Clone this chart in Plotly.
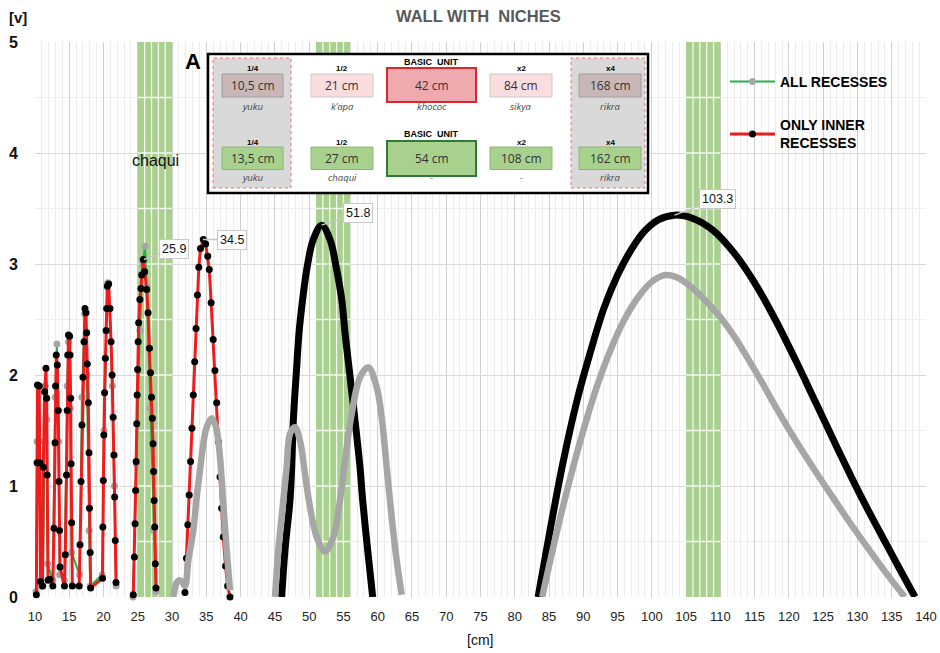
import plotly.graph_objects as go

# ---------------- data ----------------
# ONLY INNER RECESSES - sparse spikes (black dots on red line)
INNER_SPIKE_X = [10.2, 10.3, 10.36, 10.62, 10.72, 10.8,
                 11.1, 11.21, 11.4, 11.6, 11.7, 11.78, 11.9, 12.15,
                 12.6, 12.77, 12.92, 13.0, 13.1, 13.26, 13.4, 13.5, 13.58, 13.65,
                 14.3, 14.42, 14.6, 14.7, 14.78, 14.88, 15.05, 15.12, 15.2, 15.27, 15.35, 15.45,
                 16.45, 16.57, 16.72, 16.85, 17.0, 17.15, 17.29, 17.44, 17.54, 17.63, 17.78, 17.88, 17.95, 18.05, 18.12,
                 19.85, 19.9, 19.97, 20.05, 20.15, 20.27, 20.38, 20.46, 20.55, 20.75, 20.94, 21.1, 21.25, 21.4, 21.52, 21.62, 21.72, 21.82,
                 None,
                 24.34, 24.5, 24.6, 24.68, 24.76, 24.84, 24.9, 24.97, 25.05, 25.12, 25.3, 25.45, 25.57, 25.8,
                 26.0, 26.3, 26.5, 26.7, 26.85, 27.0, 27.12, 27.22, 27.3, 27.38, 27.47, 27.56, 27.65,
                 None,
                 31.88, 32.1, 32.3, 32.5, 32.7, 32.9, 33.1, 33.3, 33.5, 33.7, 33.9, 34.15, 34.56,
                 34.9, 35.2, 35.43, 35.7, 36.0, 36.25, 36.51, 36.75, 36.99, 37.23, 37.47, 37.8, 38.1, 38.45]
INNER_SPIKE_Y = [0.02, 1.21, 1.91, 1.9, 1.21, 0.14,
                 0.1, 1.17, 1.85, 2.06, 1.79, 1.1, 0.15, 0.16,
                 0.1, 0.62, 1.39, 1.9, 2.18, 2.09, 1.68, 1.04, 0.6, 0.27,
                 0.1, 0.38, 1.1, 1.68, 2.18, 2.36, 2.35, 2.18, 1.79, 1.2, 0.67, 0.1,
                 0.1, 0.47, 1.04, 1.55, 1.98, 2.3, 2.6, 2.56, 2.38, 2.1, 1.75, 1.3, 0.8, 0.4, 0.08,
                 0.17, 0.63, 1.05, 1.46, 1.84, 2.15, 2.4, 2.6, 2.8, 2.82, 2.6, 2.3, 2.0, 1.62, 1.28, 0.9, 0.51, 0.13,
                 None,
                 0.02, 0.36, 0.66, 0.96, 1.22, 1.56, 1.82, 2.05, 2.3, 2.47, 2.68, 2.78, 2.9, 3.04,
                 2.93, 2.77, 2.56, 2.24, 2.02, 1.8, 1.61, 1.38, 1.13, 0.87, 0.63, 0.3, 0.08,
                 None,
                 0.04, 0.35, 0.65, 0.92, 1.22, 1.52, 1.82, 2.12, 2.42, 2.72, 2.97, 3.14, 3.22,
                 3.18, 3.07, 2.95, 2.65, 2.32, 2.04, 1.75, 1.4, 1.08, 0.8, 0.54, 0.28, 0.1, 0.0]

# ONLY INNER RECESSES - dense humps
INNER_HUMP_X = [45.99, 46.47, 47.2, 47.45, 47.69, 48.18, 48.52, 49.05, 49.73, 50.6, 51.83,
                53.04, 53.92, 54.75, 55.23, 55.81, 56.69, 57.42, 57.81, 58.54, 59.27,
                None,
                83.4, 85, 87, 89, 91, 93, 95, 97, 99, 101, 103.3, 106, 109, 112, 115,
                118, 121, 124, 127, 130, 132, 134, 136, 138.4]
INNER_HUMP_Y = [0.0, 0.42, 0.87, 1.17, 1.59, 2.07, 2.38, 2.68, 2.98, 3.22, 3.35,
                3.22, 2.98, 2.68, 2.38, 2.07, 1.59, 1.17, 0.87, 0.42, 0.0,
                None,
                0.0, 0.55, 1.2, 1.75, 2.2, 2.6, 2.9, 3.13, 3.3, 3.4, 3.44, 3.41, 3.3, 3.1, 2.83,
                2.5, 2.13, 1.74, 1.35, 0.97, 0.73, 0.5, 0.27, 0.0]

# ALL RECESSES - sparse spikes (grey dots on green line)
ALL_SPIKE_X = [10.15, 10.32, 10.6, 10.8, 11.15, 11.5, 11.72, 11.85,
               12.6, 12.95, 13.2, 13.45, 13.6, 14.3, 14.7, 14.9, 15.15, 15.35,
               16.5, 16.85, 17.25, 17.55, 17.9, 18.05,
               19.8, 20.1, 20.4, 20.6, 20.9, 21.3, 21.6, 21.85,
               None,
               24.3, 24.8, 25.3, 25.7, 26.05, 26.3, 26.8, 27.3, 27.65]
ALL_SPIKE_Y = [0.05, 1.4, 1.4, 0.1, 0.1, 1.9, 1.6, 0.3,
               0.15, 1.8, 2.28, 1.4, 0.2, 0.15, 1.9, 2.3, 1.7, 0.4,
               0.2, 1.8, 2.55, 2.0, 0.6, 0.1,
               0.2, 1.5, 2.4, 2.83, 2.6, 1.9, 1.0, 0.1,
               None,
               0.0, 1.2, 2.4, 3.0, 3.16, 2.8, 1.7, 0.6, 0.05]

# ALL RECESSES - dense humps
ALL_HUMP_X = [30.18, 30.67, 31.0, 31.4, 31.88, 32.37, 33.1, 33.59, 34.07, 34.56, 35.05,
              35.78, 36.41, 36.99, 37.47, 37.97, 38.45,
              None,
              45.02, 45.5, 46.23, 46.72, 47.2, 47.93, 48.66, 49.39, 50.12, 51.1, 52.31,
              53.52, 54.5, 55.23, 56.2, 57.42, 58.63, 59.85, 60.58, 61.31, 62.04, 62.77, 63.5,
              None,
              84.0, 86, 88, 90, 92, 94, 96, 98, 100, 102, 104, 106, 108, 110, 112, 114,
              116, 118, 120, 122, 124, 126.7, 129, 132, 134.5, 136.9]
ALL_HUMP_Y = [0.0, 0.13, 0.15, 0.14, 0.1, 0.33, 0.6, 0.9, 1.14, 1.38, 1.53,
              1.61, 1.53, 1.26, 0.84, 0.42, 0.06,
              None,
              0.0, 0.42, 0.87, 1.17, 1.47, 1.53, 1.41, 1.11, 0.81, 0.54, 0.41,
              0.54, 0.87, 1.23, 1.65, 1.98, 2.07, 1.89, 1.62, 1.17, 0.72, 0.33, 0.02,
              None,
              0.0, 0.55, 1.05, 1.5, 1.9, 2.23, 2.5, 2.7, 2.84, 2.9, 2.87, 2.78, 2.66, 2.52, 2.35, 2.15,
              1.94, 1.72, 1.51, 1.31, 1.12, 0.87, 0.66, 0.4, 0.19, 0.0]

# Green bands [cm]
BAND_X0 = [25, 51, 105]
BAND_X1 = [30, 56, 110]

# Peak labels
PEAK_X = [25.9, 34.5, 51.8, 103.3]
PEAK_Y = [3.04, 3.22, 3.35, 3.44]

# Inset table
RATIO_TOP = ["1/4", "1/2", "BASIC\u00a0 UNIT", "x2", "x4"]
RATIO_BOT = ["1/4", "1/2", "BASIC\u00a0 UNIT", "x2", "x4"]
VALUES_TOP = ["10,5 cm", "21 cm", "42 cm", "84 cm", "168 cm"]
VALUES_BOT = ["13,5 cm", "27 cm", "54 cm", "108 cm", "162 cm"]
NAMES_TOP = ["yuku", "k\u2019apa", "khococ", "sikya", "rikra"]
NAMES_BOT = ["yuku", "chaqui", "-", "-", "rikra"]

# ---------------- figure ----------------
L, R, T, B = 35, 926, 42, 597


def PX(v):
    return (v - L) / (R - L)


def PY(v):
    return (B - v) / (B - T)


fig = go.Figure()

fig.add_trace(go.Scatter(
    x=ALL_SPIKE_X, y=ALL_SPIKE_Y, mode="lines+markers", name="ALL RECESSES",
    line=dict(color="#22b14c", width=2), marker=dict(color="#a6a6a6", size=7),
    cliponaxis=False, legendgroup="a"))
fig.add_trace(go.Scatter(
    x=INNER_SPIKE_X, y=INNER_SPIKE_Y, mode="lines+markers", name="ONLY INNER<br>RECESSES",
    line=dict(color="#ee1c1c", width=3), marker=dict(color="black", size=7),
    cliponaxis=False, legendgroup="b"))
fig.add_trace(go.Scatter(
    x=INNER_HUMP_X, y=INNER_HUMP_Y, mode="lines", showlegend=False,
    line=dict(color="black", width=7, shape="spline"), cliponaxis=False))
fig.add_trace(go.Scatter(
    x=ALL_HUMP_X, y=ALL_HUMP_Y, mode="lines", showlegend=False,
    line=dict(color="#a6a6a6", width=6.5, shape="spline"), cliponaxis=False))

shapes = []
# green bands, above the grid, with white grid lines inside
for x0, x1 in zip(BAND_X0, BAND_X1):
    shapes.append(dict(type="rect", xref="x", yref="y", x0=x0, x1=x1, y0=0, y1=5,
                       fillcolor="#a9d08e", line=dict(width=0), layer="between"))
    for gx in range(x0 + 1, x1):
        shapes.append(dict(type="line", xref="x", yref="y", x0=gx, x1=gx, y0=0, y1=5,
                           line=dict(color="rgba(255,255,255,0.85)", width=1.3), layer="between"))
    for k in range(1, 10):
        shapes.append(dict(type="line", xref="x", yref="y", x0=x0, x1=x1, y0=k * 0.5, y1=k * 0.5,
                           line=dict(color="rgba(255,255,255,0.85)", width=1.3), layer="between"))

# inset box
shapes.append(dict(type="rect", xref="paper", yref="paper", x0=PX(208), x1=PX(648),
                   y0=PY(193), y1=PY(54), fillcolor="white", line=dict(color="black", width=2.5)))
for gx0, gx1 in [(213, 291), (571, 645)]:
    shapes.append(dict(type="rect", xref="paper", yref="paper", x0=PX(gx0), x1=PX(gx1),
                       y0=PY(188), y1=PY(58), fillcolor="#d9d9d9",
                       line=dict(color="#f07070", width=1, dash="dot")))
CELL_X = [(222, 283), (311, 373), (387, 476), (490, 552), (579, 641)]
FILL_TOP = ["#c9b7b7", "#fbdde0", "#eeaaae", "#fbdde0", "#c9b7b7"]
LINE_TOP = ["#9e9e9e", "#c9c9c9", "#d9272e", "#c9c9c9", "#9e9e9e"]
LINE_BOT = ["#8fb573", "#8fb573", "#2f7a3a", "#8fb573", "#8fb573"]
for i, (cx0, cx1) in enumerate(CELL_X):
    big = i == 2
    ty0, ty1 = (68, 102) if big else (74, 97)
    by0, by1 = (141, 176) if big else (147, 169.5)
    shapes.append(dict(type="rect", xref="paper", yref="paper", x0=PX(cx0), x1=PX(cx1),
                       y0=PY(ty1), y1=PY(ty0), fillcolor=FILL_TOP[i],
                       line=dict(color=LINE_TOP[i], width=2 if big else 1)))
    shapes.append(dict(type="rect", xref="paper", yref="paper", x0=PX(cx0), x1=PX(cx1),
                       y0=PY(by1), y1=PY(by0), fillcolor="#a9d18e",
                       line=dict(color=LINE_BOT[i], width=2 if big else 1)))

ann = []


def txt(px, py, s, size=12, color="#333", bold=False, family="Open Sans", italic=False):
    ann.append(dict(xref="paper", yref="paper", x=PX(px), y=PY(py), text=s, showarrow=False,
                    xanchor="center", yanchor="middle",
                    font=dict(size=size, color=color, family=family,
                              weight="bold" if bold else "normal",
                              style="italic" if italic else "normal")))


for i, (cx0, cx1) in enumerate(CELL_X):
    cx = (cx0 + cx1) / 2
    big = i == 2
    txt(cx, 62 if big else 68.5, RATIO_TOP[i], size=9 if big else 8, color="black", bold=True, family="Arial")
    txt(cx, 85.5, VALUES_TOP[i], size=12)
    txt(cx, 106.5, NAMES_TOP[i], size=9.5, color="#444", italic=True)
    txt(cx, 133.5 if big else 142, RATIO_BOT[i], size=9 if big else 8, color="black", bold=True, family="Arial")
    txt(cx, 158.5, VALUES_BOT[i], size=12)
    txt(cx, 177.5, NAMES_BOT[i], size=9.5, color="#444", italic=True)

txt(193, 62, "A", size=22, color="black", bold=True, family="Arial")
txt(155, 160, "chaqui", size=16, color="#111", family="Arial")
txt(478, 16, "WALL WITH\u00a0 NICHES", size=16.5, color="#595959", bold=True, family="Arial")
txt(18, 17, "[v]", size=15, color="#111", bold=True, family="Arial")
txt(480, 640, "[cm]", size=14, color="#111", family="Arial")

OFFS = [(30, -11), (29, 0), (37, -12), (43, -16)]
for (px_, py_), (ax, ay) in zip(zip(PEAK_X, PEAK_Y), OFFS):
    ann.append(dict(x=px_, y=py_, xref="x", yref="y", text=f"{px_:g}", showarrow=True,
                    ax=ax, ay=ay, arrowhead=0, arrowwidth=1.5, arrowcolor="#c8c8c8",
                    bordercolor="#c8c8c8", borderwidth=1, borderpad=2, bgcolor="white",
                    font=dict(size=12.5, color="#111", family="Arial")))

fig.update_layout(
    width=940, height=653, autosize=False,
    margin=dict(l=L, r=940 - R, t=T, b=653 - B),
    plot_bgcolor="white", paper_bgcolor="white",
    shapes=shapes, annotations=ann,
    legend=dict(x=PX(725), y=PY(66), xanchor="left", yanchor="top",
                font=dict(family="Arial", size=14, color="black", weight="bold"),
                bgcolor="rgba(0,0,0,0)", tracegroupgap=22, itemwidth=45),
    xaxis=dict(range=[10, 140], tick0=10, dtick=5, showgrid=True, gridcolor="#d0d0d0",
               zeroline=False, showline=False, ticks="", automargin=False,
               tickfont=dict(size=13, color="#222", family="Arial"), ticklabelstandoff=10,
               minor=dict(dtick=1, showgrid=True, gridcolor="#ececec")),
    yaxis=dict(range=[0, 5], dtick=1, showgrid=True, gridcolor="#d9d9d9",
               zeroline=False, showline=False, ticks="", automargin=False,
               tickfont=dict(size=16, color="#111", family="Arial", weight="bold"),
               ticklabelstandoff=16,
               minor=dict(dtick=0.5, showgrid=True, gridcolor="#eeeeee")),
)

fig.write_html("out.html", config={"responsive": False, "displayModeBar": False},
               post_script="document.body.style.margin='0';")
